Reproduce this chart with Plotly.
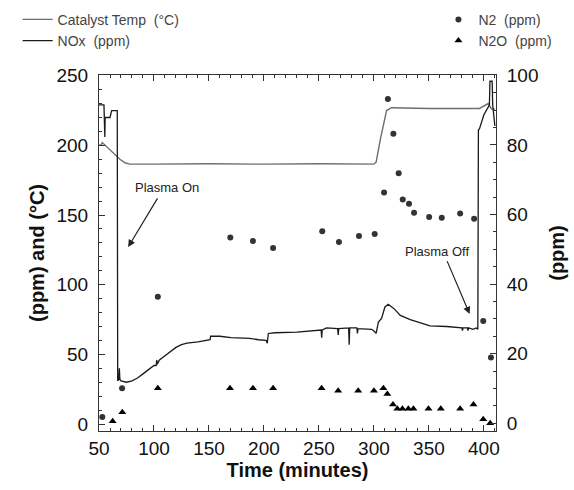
import plotly.graph_objects as go

# ---- data ----
nox_t = [50, 54.5, 55.3, 55.6, 60, 61.5, 65, 66.6, 67, 68, 68.5, 69, 70, 75, 80, 85, 90, 95, 100, 102,
         102.5, 103, 105, 110, 115, 120, 125, 130, 140, 148, 151, 151.5, 160, 170, 180, 187, 195, 202,
         203, 204, 210, 230, 252, 252.5, 253, 257, 267, 267.5, 268, 277, 277.5, 278, 284.5, 285, 285.5,
         290, 298, 301, 302, 304, 307, 310, 313, 318, 324, 333, 345, 351, 366, 378, 380, 380.5, 381,
         385, 385.5, 386, 390, 393, 394.5, 395, 396, 400, 404, 405, 405.5, 407.5, 408, 410]
nox_v = [229, 229, 206, 220, 220, 225, 225, 225, 31, 32, 40, 32, 31, 30, 31, 33, 36, 39, 42, 42,
         46, 43, 46, 49, 52, 55, 57, 58, 59, 60, 60.5, 63, 63, 62, 62, 61.5, 60.5, 60,
         58, 65, 65.5, 66, 67.5, 62, 67.5, 69, 68.5, 64, 68.5, 69, 57, 69, 69, 65, 68.5,
         68.5, 68, 66, 65, 73, 76, 84, 86, 83, 78, 75, 72, 70.5, 70, 69.5, 69, 67, 69,
         69, 67, 69, 68, 69, 68, 211, 212, 222, 228, 229, 246, 246, 229, 214]

temp_t = [50, 52, 53, 55.5, 60, 64.5, 69, 73.6, 78, 100, 150, 200, 250, 300, 302, 306, 311.5, 316,
          350, 396, 400, 404, 407, 410]
temp_v = [200, 200.5, 202, 200, 197, 193, 190, 187.5, 186.5, 186.5, 186.8, 186.5, 186.8, 186.5, 188,
          205, 225, 227, 226.5, 226.5, 228, 230, 226, 226]

n2_t = [53, 71, 103.5, 169.4, 190, 208.3, 253, 268.2, 286.4, 300.7, 309.2, 312.7, 317.7, 322.5,
        326.2, 331.9, 336.5, 350.2, 361.7, 378.4, 391.1, 399.4, 406.4]
n2_v = [1.8, 10.1, 36.4, 53.4, 52.4, 50.4, 55.2, 52.1, 53.8, 54.4, 66.3, 93.2, 83.2, 71.9,
        64.3, 63.1, 60.5, 59.3, 59.1, 60.3, 58.8, 29.4, 18.9]

n2o_t = [62.4, 71.2, 103.5, 169.1, 190, 208.3, 252.4, 267.5, 285.7, 300, 308.6, 312.2, 317.3,
         321.3, 325.9, 331.3, 335.9, 349.6, 360.8, 378.4, 390.5, 399.4, 405.7]
n2o_v = [0.6, 3.2, 10.1, 10.1, 10.1, 10.1, 10.1, 9.4, 9.4, 9.4, 10.1, 8.4, 5.4,
         4.2, 4.2, 4.2, 4.2, 4.2, 4.2, 4.2, 5.4, 1.2, 0]

FONT = "Liberation Sans, Arial, Helvetica, sans-serif"

fig = go.Figure()
fig.add_trace(go.Scatter(x=temp_t, y=temp_v, mode="lines", name="Catalyst Temp\u00a0 (°C)",
                         line=dict(color="#6e6e6e", width=1.4), legend="legend"))
fig.add_trace(go.Scatter(x=nox_t, y=nox_v, mode="lines", name="NOx\u00a0 (ppm)",
                         line=dict(color="#1a1a1a", width=1.3), legend="legend"))
fig.add_trace(go.Scatter(x=n2_t, y=n2_v, mode="markers", name="N2\u00a0 (ppm)", yaxis="y2",
                         marker=dict(symbol="circle", size=6, color="#333333"), legend="legend2"))
fig.add_trace(go.Scatter(x=n2o_t, y=n2o_v, mode="markers", name="N2O\u00a0 (ppm)", yaxis="y2",
                         marker=dict(symbol="triangle-up", size=7, color="#000000"), legend="legend2"))

axis_common = dict(showline=True, linecolor="#333", linewidth=1, ticks="inside", ticklen=6,
                   tickcolor="#333", showgrid=False, zeroline=False,
                   tickfont=dict(family=FONT, size=19, color="#111"))

fig.update_layout(
    width=574, height=490,
    margin=dict(l=99, r=78, t=75, b=59, autoexpand=False),
    paper_bgcolor="white", plot_bgcolor="white",
    font=dict(family=FONT, color="#111"),
    xaxis=dict(range=[50, 411], tickvals=[50, 100, 150, 200, 250, 300, 350, 400], mirror="ticks",
               minor=dict(ticks="inside", dtick=10, ticklen=3, tickcolor="#333"),
               title=dict(text="<b>Time (minutes)</b>", font=dict(family=FONT, size=20), standoff=2),
               ticklabelstandoff=0, automargin=False,
               **axis_common),
    yaxis=dict(range=[-5, 250.5], tickvals=[0, 50, 100, 150, 200, 250],
               minor=dict(ticks="inside", dtick=10, ticklen=3, tickcolor="#333"),
               title=dict(text="<b>(ppm) and (°C)</b>", font=dict(family=FONT, size=20), standoff=6),
               ticklabelstandoff=6, automargin=False,
               **axis_common),
    yaxis2=dict(range=[-2.2, 100.1], tickvals=[0, 20, 40, 60, 80, 100], overlaying="y", side="right",
                minor=dict(ticks="inside", dtick=5, ticklen=3, tickcolor="#333"),
                title=dict(text="<b>(ppm)</b>", font=dict(family=FONT, size=20), standoff=12),
                ticklabelstandoff=6, automargin=False,
                **axis_common),
    legend=dict(x=-0.205, y=1.2, xanchor="left", yanchor="top", bgcolor="rgba(0,0,0,0)",
                font=dict(family=FONT, size=14, color="#444"), tracegroupgap=0, itemwidth=30),
    legend2=dict(x=0.855, y=1.2, xanchor="left", yanchor="top", bgcolor="rgba(0,0,0,0)",
                 font=dict(family=FONT, size=14, color="#444"), tracegroupgap=0, itemwidth=30),
    annotations=[
        dict(x=76.5, y=127, ax=104, ay=163, xref="x", yref="y", axref="x", ayref="y",
             text="", showarrow=True, arrowhead=2, arrowsize=1.2, arrowwidth=1.2, arrowcolor="#222"),
        dict(x=112, y=170, xref="x", yref="y", text="Plasma On", showarrow=False,
             font=dict(family=FONT, size=13, color="#222")),
        dict(x=387, y=79, ax=366, ay=118, xref="x", yref="y", axref="x", ayref="y",
             text="", showarrow=True, arrowhead=2, arrowsize=1.2, arrowwidth=1.2, arrowcolor="#222"),
        dict(x=357, y=124, xref="x", yref="y", text="Plasma Off", showarrow=False,
             font=dict(family=FONT, size=13, color="#222")),
    ],
)

fig.write_html("out.html", config={"displayModeBar": False},
               post_script="document.body.style.margin='0px';")
